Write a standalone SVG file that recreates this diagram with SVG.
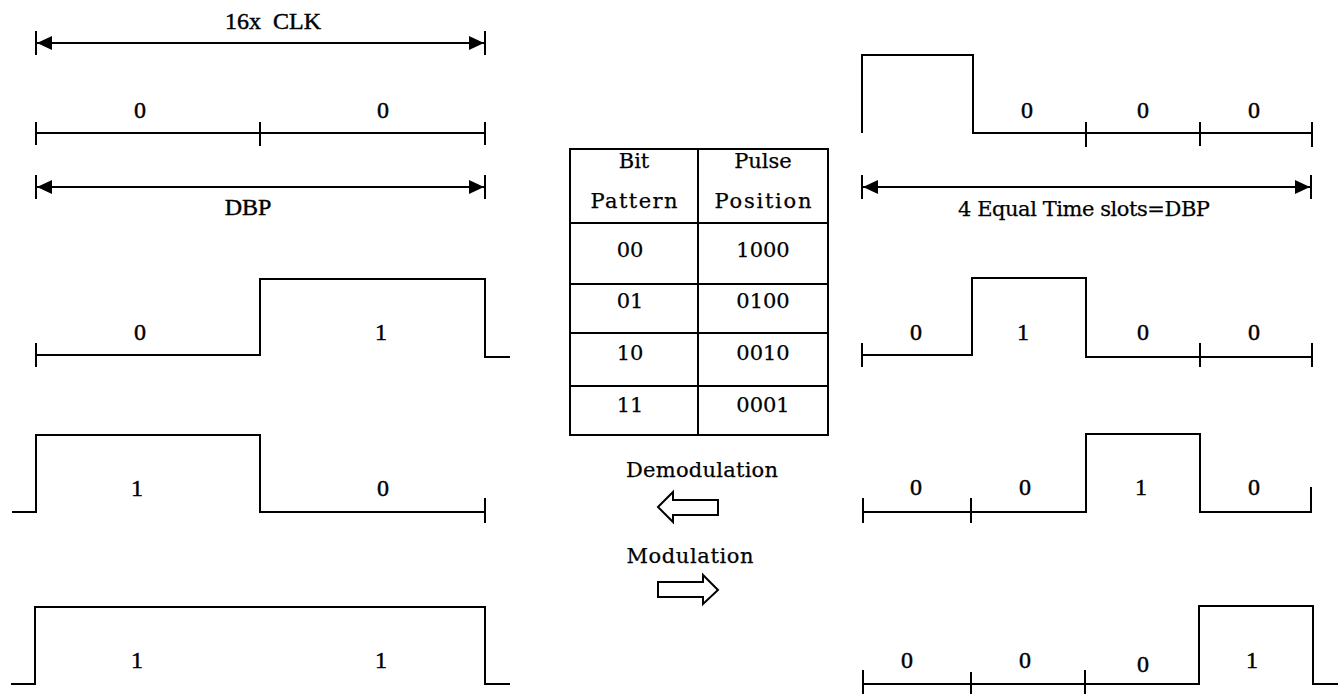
<svg xmlns="http://www.w3.org/2000/svg" width="1343" height="694" viewBox="0 0 1343 694">
<style>
.w{fill:none;stroke:#000;stroke-width:2;stroke-linecap:butt;stroke-linejoin:miter}
.d{font-family:'Liberation Serif','Times New Roman',Times,serif;font-size:24px;font-weight:normal;text-anchor:middle;fill:#000;stroke:#000;stroke-width:0.45}
.g{font-family:'DejaVu Serif','Liberation Serif',serif;font-size:21px;text-anchor:middle;fill:#000;stroke:#000;stroke-width:0.25}
.ba{fill:#fff;stroke:#000;stroke-width:2;stroke-linejoin:miter}
</style>
<defs>
<marker id="ah" markerUnits="userSpaceOnUse" markerWidth="16" markerHeight="14" refX="15" refY="7" orient="auto-start-reverse">
<path d="M0,0 L15,7 L0,14 z" fill="#000"/>
</marker>
</defs>
<rect width="1343" height="694" fill="#fff"/>

<g id="clk-dim">
<path class="w" d="M36,31 V55 M485,31 V55"/>
<line class="w" x1="37" y1="43" x2="484" y2="43" marker-start="url(#ah)" marker-end="url(#ah)"/>
<text class="d" x="273" y="29">16x&#160; CLK</text>
</g>

<g id="left-00">
<path class="w" d="M36,133 H485 M36,122 V145 M260,122 V146 M485,122 V145"/>
<text class="d" x="140" y="118">0</text>
<text class="d" x="383" y="118">0</text>
</g>

<g id="dbp-dim">
<path class="w" d="M36,175 V199 M485,175 V199"/>
<line class="w" x1="37" y1="187" x2="484" y2="187" marker-start="url(#ah)" marker-end="url(#ah)"/>
<text class="d" x="248" y="215">DBP</text>
</g>

<g id="left-01">
<path class="w" d="M36,343 V367 M36,355 H260 V279 H485 V357 H510"/>
<text class="d" x="140" y="340">0</text>
<text class="d" x="381" y="340">1</text>
</g>

<g id="left-10">
<path class="w" d="M12,512 H36 V435 H260 V512 H485 M485,498 V523"/>
<text class="d" x="137" y="496">1</text>
<text class="d" x="383" y="496">0</text>
</g>

<g id="left-11">
<path class="w" d="M11,684 H35 V607 H485 V684 H510"/>
<text class="d" x="137" y="668">1</text>
<text class="d" x="381" y="668">1</text>
</g>

<g id="table">
<rect class="w" x="570" y="149" width="258" height="286"/>
<path class="w" d="M698,149 V435 M570,223 H828 M570,284 H828 M570,333 H828 M570,386 H828"/>
<text class="g" x="634" y="168" font-size="22">Bit</text>
<text class="g" x="634" y="208" font-size="22" textLength="87">Pattern</text>
<text class="g" x="763" y="168" font-size="22">Pulse</text>
<text class="g" x="763" y="208" font-size="22" textLength="97">Position</text>
<text class="g" x="630" y="257" font-size="22">00</text>
<text class="g" x="763" y="257" font-size="22">1000</text>
<text class="g" x="630" y="308" font-size="22">01</text>
<text class="g" x="763" y="308" font-size="22">0100</text>
<text class="g" x="630" y="360" font-size="22">10</text>
<text class="g" x="763" y="360" font-size="22">0010</text>
<text class="g" x="630" y="412" font-size="22">11</text>
<text class="g" x="763" y="412" font-size="22">0001</text>
</g>

<g id="connectors">
<text class="g" x="702" y="477" font-size="22" textLength="152">Demodulation</text>
<polygon class="ba" points="658,507 673,492 673,500 718,500 718,515 673,515 673,522"/>
<text class="g" x="690" y="563" font-size="22" textLength="127">Modulation</text>
<polygon class="ba" points="658,582 703,582 703,575 718,590 703,604 703,597 658,597"/>
</g>

<g id="right-1000">
<path class="w" d="M862,133 V55 H973 V133 H1312 M1086,122 V147 M1200,122 V146 M1312,122 V147"/>
<text class="d" x="1027" y="118">0</text>
<text class="d" x="1143" y="118">0</text>
<text class="d" x="1254" y="118">0</text>
</g>

<g id="slots-dim">
<path class="w" d="M862,175 V199 M1311,175 V199"/>
<line class="w" x1="863" y1="187" x2="1310" y2="187" marker-start="url(#ah)" marker-end="url(#ah)"/>
<text class="g" x="1084" y="216" font-size="20" textLength="252">4 Equal Time slots=DBP</text>
</g>

<g id="right-0100">
<path class="w" d="M862,343 V367 M862,355 H972 V278 H1086 V357 H1312 M1200,343 V367 M1312,343 V367"/>
<text class="d" x="916" y="340">0</text>
<text class="d" x="1023" y="340">1</text>
<text class="d" x="1143" y="340">0</text>
<text class="d" x="1254" y="340">0</text>
</g>

<g id="right-0010">
<path class="w" d="M863,498 V523 M971,498 V523 M863,512 H1086 V434 H1200 V512 H1311 V487"/>
<text class="d" x="916" y="495">0</text>
<text class="d" x="1025" y="495">0</text>
<text class="d" x="1141" y="495">1</text>
<text class="d" x="1254" y="495">0</text>
</g>

<g id="right-0001">
<path class="w" d="M863,670 V694 M971,672 V694 M1085,670 V694 M863,684 H1199 V606 H1313 V684 H1338"/>
<text class="d" x="907" y="668">0</text>
<text class="d" x="1025" y="668">0</text>
<text class="d" x="1143" y="672">0</text>
<text class="d" x="1252" y="668">1</text>
</g>
</svg>
